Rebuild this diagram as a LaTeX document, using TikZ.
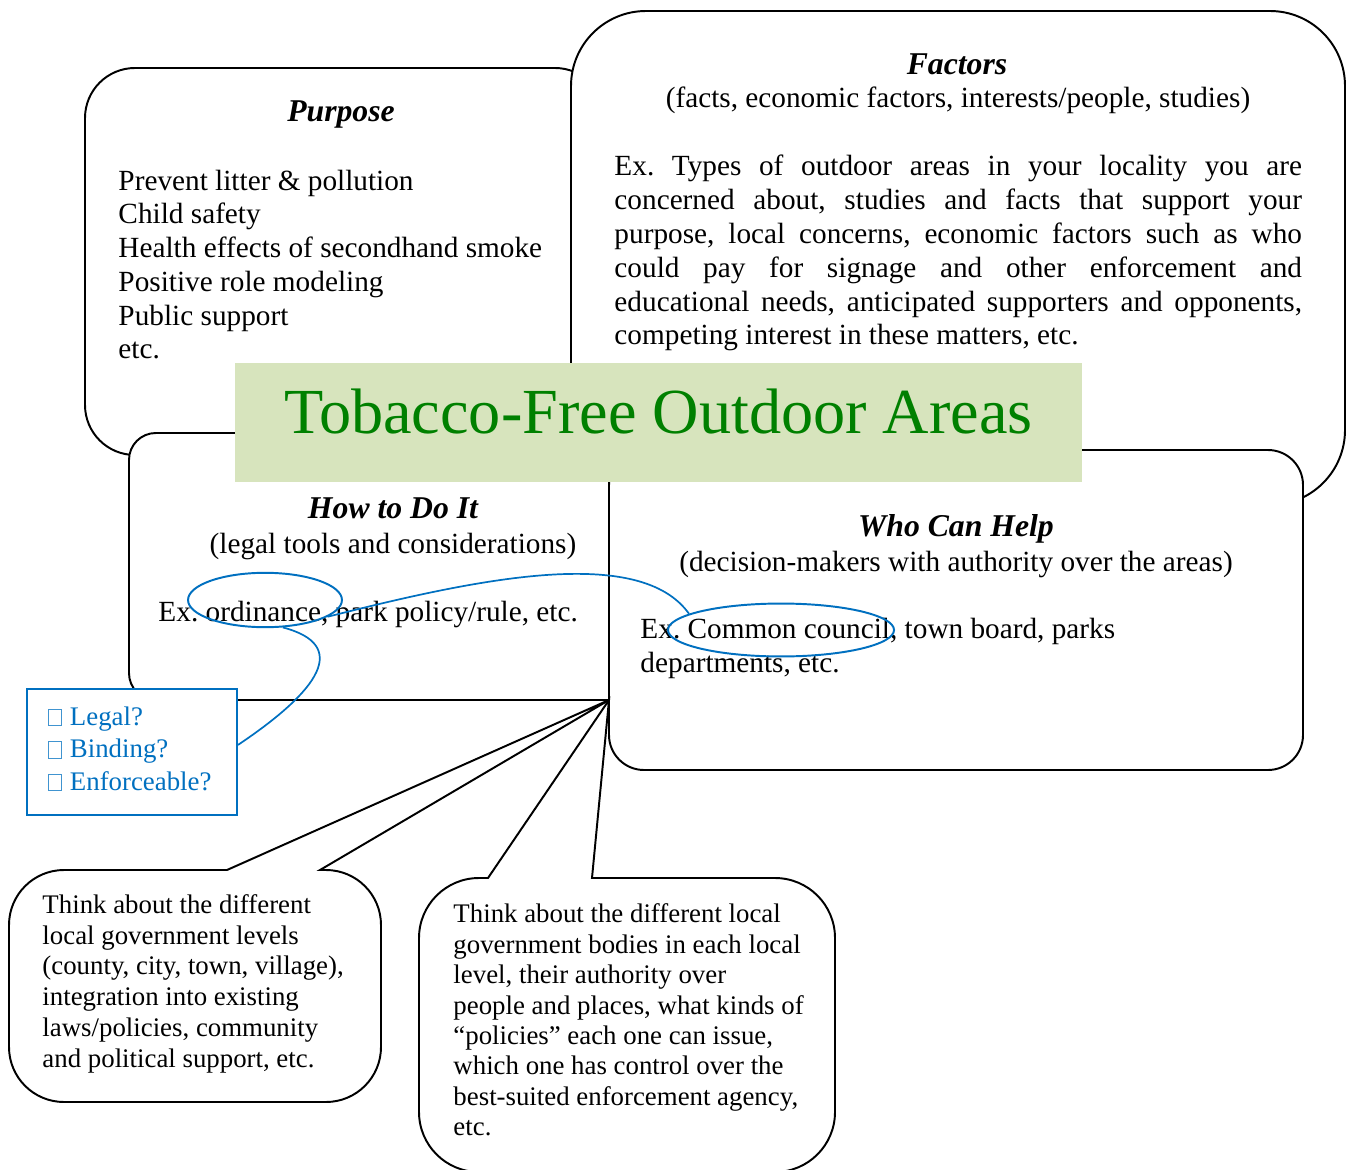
\documentclass[tikz,border=0pt]{standalone}
\usepackage{fontspec}
\setmainfont{Liberation Serif}
\usetikzlibrary{shapes.geometric}
\definecolor{ablue}{HTML}{0070C0}
\definecolor{tgreen}{HTML}{008000}
\definecolor{tbg}{HTML}{D7E4BD}
\frenchspacing
\newcommand\tofubox{{\color{ablue!75}\fboxsep=0pt\fboxrule=0.4pt\fbox{\rule{0pt}{6.2pt}\hspace{4.6pt}}}\hspace{3.4pt}}
\begin{document}
\begin{tikzpicture}[x=0.41pt,y=-0.41pt,
  panel/.style={draw=black,line width=0.8pt,fill=white},
  txt/.style={inner sep=0pt,anchor=base west,align=left,font=\fontsize{12}{13.85}\selectfont},
  head/.style={inner sep=0pt,anchor=base,font=\fontsize{13}{15}\selectfont\bfseries\itshape},
  sub/.style={inner sep=0pt,anchor=base,font=\fontsize{12}{13.85}\selectfont},
  note/.style={inner sep=0pt,anchor=base west,align=left,font=\fontsize{11}{12.5}\selectfont},
  ring/.style={ellipse,draw=ablue,line width=0.8pt,inner sep=0pt},
  link/.style={draw=ablue,line width=0.7pt},
]
\useasboundingbox (0,0) rectangle (1348,1170);

% panels
\draw[panel,rounded corners=20.5pt] (85,68) rectangle (605,455);
\draw[panel,rounded corners=30.75pt] (571,11) rectangle (1345,505);
\draw[panel,rounded corners=11pt] (129,433) rectangle (680,700);
\draw[panel,rounded corners=14.35pt] (609,450) rectangle (1303,770);

% Purpose (multi-line nodes are placed by the baseline of their last line)
\node[head] (purposeH) at (341,122) {Purpose};
\node[txt] (purposeT) at (118,359) {Prevent litter \& pollution\\Child safety\\Health effects of secondhand smoke\\Positive role modeling\\Public support\\etc.};

% Factors
\node[head] (factorsH) at (957,75) {Factors};
\node[sub] (factorsS) at (958,108) {(facts, economic factors, interests/people, studies)};
\node[txt,text width=281.9pt,align=justify] (factorsT) at (614,176) {\hyphenpenalty=10000\tolerance=10000 Ex. Types of outdoor areas in your locality you are\linebreak concerned about, studies and facts that support your\linebreak purpose, local concerns, economic factors such as who\linebreak could pay for signage and other enforcement and\linebreak educational needs, anticipated supporters and opponents,\linebreak competing interest in these matters, etc.};

% How to do it
\node[head] (howH) at (393,518) {How to Do It};
\node[sub] (howS) at (393,553) {(legal tools and considerations)};
\node[txt] (howT) at (158,621) {Ex. ordinance, park policy/rule, etc.};

% Who can help
\node[head] (whoH) at (956,536) {Who Can Help};
\node[sub] (whoS) at (956,571) {(decision-makers with authority over the areas)};
\node[txt] (whoT) at (640,672) {Ex. Common council, town board, parks\\departments, etc.};

% title
\node[fill=tbg,inner sep=0pt,minimum width=347.3pt,minimum height=48.8pt] (titlebox) at (658.5,422.5) {};
\node[inner sep=0pt,anchor=base,text=tgreen,font=\fontsize{26.35}{30}\selectfont] (title) at (658.5,433) {Tobacco-Free Outdoor Areas};

% legal box
\node[draw=ablue,line width=0.8pt,fill=white,inner sep=0pt,minimum width=86.1pt,minimum height=51.7pt] (legal) at (132,752) {};
\node[note,text=ablue,font=\fontsize{11}{13.3}\selectfont] (legalT) at (48,790) {\tofubox Legal?\\\tofubox Binding?\\\tofubox Enforceable?};

% callouts
\coordinate (tip) at (609,700);
\draw[panel] (227,870) -- (64,870) arc[start angle=270,end angle=180,radius=55] -- (9,1047) arc[start angle=180,end angle=90,radius=55] -- (326,1102) arc[start angle=90,end angle=0,radius=55] -- (381,925) arc[start angle=0,end angle=-90,radius=55] -- (320,870) -- (tip) -- cycle;
\draw[panel] (488,878) -- (479,878) arc[start angle=270,end angle=180,radius=60] -- (419,1112) arc[start angle=180,end angle=90,radius=60] -- (775,1172) arc[start angle=90,end angle=0,radius=60] -- (835,938) arc[start angle=0,end angle=-90,radius=60] -- (592,878) -- (tip) -- cycle;
\node[note,font=\fontsize{11}{12.6}\selectfont] (leftT) at (42,1067) {Think about the different\\local government levels\\(county, city, town, village),\\integration into existing\\laws/policies, community\\and political support, etc.};
\node[note,font=\fontsize{11}{12.45}\selectfont] (rightT) at (453,1135.5) {Think about the different local\\government bodies in each local\\level, their authority over\\people and places, what kinds of\\“policies” each one can issue,\\which one has control over the\\best-suited enforcement agency,\\etc.};

% blue marks
\node[ring,minimum width=63.1pt,minimum height=22.3pt] (ordE) at (265,600) {};
\node[ring,minimum width=92.7pt,minimum height=21.7pt] (councilE) at (781,630) {};
\draw[link] (ordE.-15) .. controls (480,578) and (640,545) .. (councilE.170);
\draw[link] (ordE.-57) .. controls (350,645) and (320,690) .. ([yshift=2.9pt]legal.east);
\end{tikzpicture}
\end{document}
